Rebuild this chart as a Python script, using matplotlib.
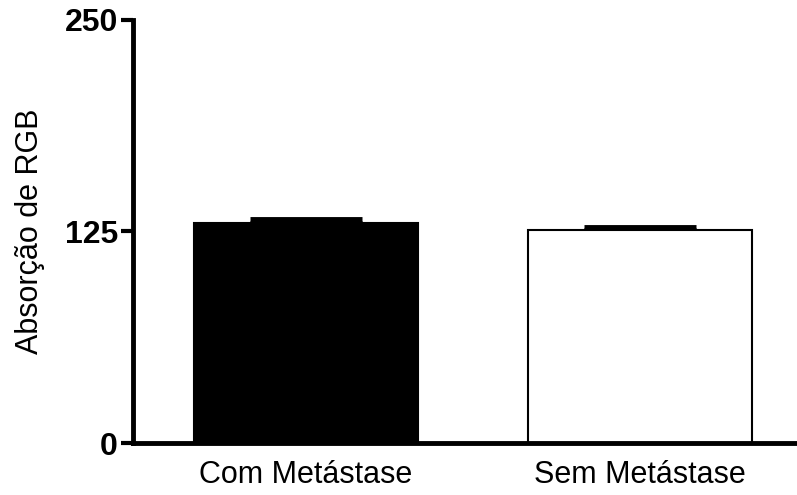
import numpy as np
import matplotlib.pyplot as plt

plt.rcParams['font.family'] = ['Liberation Sans', 'DejaVu Sans']

groups = ['Com Metástase', 'Sem Metástase']
means = [130, 126]
sems = [2.5, 1.5]
colors = ['black', 'white']
yticks = [0, 125, 250]

fig = plt.figure(figsize=(7.97, 4.95), dpi=100)
ax = fig.add_axes([0.167, 0.105, 0.833, 0.855])

x = np.arange(len(groups))
ax.bar(x, means, width=0.67, color=colors, edgecolor='black', linewidth=1.5, zorder=2)
ax.errorbar(x, means, yerr=[np.zeros(len(sems)), sems], fmt='none', ecolor='black',
            elinewidth=1.5, capsize=40, capthick=3.5, zorder=1)

ax.set_xlim(-0.518, 1.47)
ax.set_ylim(0, 250)
ax.set_yticks(yticks)
ax.set_yticklabels([str(t) for t in yticks], fontsize=23, fontweight='bold')
ax.set_xticks(x)
ax.set_xticklabels(groups, fontsize=22)
ax.tick_params(axis='x', length=0, pad=12)
ax.tick_params(axis='y', length=9, width=3, pad=2)
ax.set_ylabel('Absorção de RGB', fontsize=22, labelpad=14)

for s in ['top', 'right']:
    ax.spines[s].set_visible(False)
for s in ['left', 'bottom']:
    ax.spines[s].set_linewidth(3.5)

fig.savefig('out.png', dpi=100)
